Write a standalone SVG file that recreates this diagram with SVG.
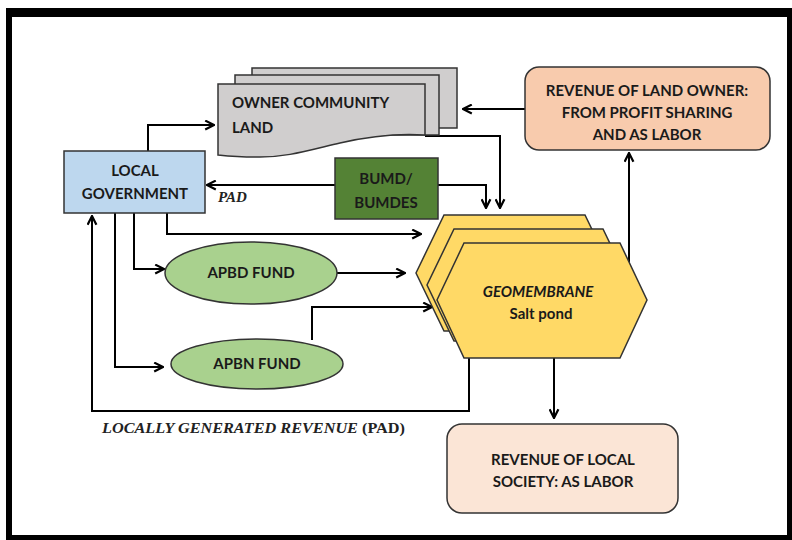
<svg xmlns="http://www.w3.org/2000/svg" width="792" height="540" viewBox="0 0 792 540">
<defs>
<marker id="ah" viewBox="0 0 10 10" refX="9" refY="5" markerWidth="11" markerHeight="11" markerUnits="userSpaceOnUse" orient="auto">
<path d="M1,1 L9,5 L1,9" fill="none" stroke="#000" stroke-width="2"/>
</marker>
<style>
.t{font-family:Lato,"Liberation Sans",sans-serif;font-weight:bold;font-size:15px;fill:#1a1a1a}
.c{text-anchor:middle}
.s{font-family:"Liberation Serif",serif;font-weight:bold;font-size:15px;fill:#222}
.ln{fill:none;stroke:#000;stroke-width:2}
.ar{marker-end:url(#ah)}
.bd{stroke:#333;stroke-width:1.5}
</style>
</defs>
<rect width="792" height="540" fill="#fff"/>
<g id="frame" fill="#000">
<rect x="6" y="8" width="786" height="9"/>
<rect x="6" y="8" width="6" height="532"/>
<rect x="787" y="8" width="5" height="532"/>
<rect x="6" y="535" width="786" height="5"/>
</g>
<g id="connectors">
<path class="ln ar" d="M148,151 V125 H214"/>
<path class="ln ar" d="M335,185 H207"/>
<path class="ln ar" d="M167,213 V234 H421"/>
<path class="ln ar" d="M134,213 V269 H164"/>
<path class="ln ar" d="M115,213 V367 H163"/>
<path class="ln ar" d="M337,273 H405"/>
<path class="ln ar" d="M312,340 V307 H432"/>
<path class="ln ar" d="M469,358 V411 H92 V216"/>
<path class="ln ar" d="M425,136 H500 V208"/>
<path class="ln ar" d="M438,185 H486 V208"/>
<path class="ln ar" d="M525,109 H463"/>
<path class="ln ar" d="M629,272 V153"/>
<path class="ln ar" d="M554,358 V418"/>
</g>
<g id="owner-land">
<rect x="252" y="68" width="205" height="60" fill="#d0cece" class="bd"/>
<rect x="235" y="75" width="204" height="60" fill="#d0cece" class="bd"/>
<path d="M218,84 H425 V135 C395,133 370,136 340,143 C310,150 285,158 255,157 C240,157 228,156 218,155 Z" fill="#d0cece" class="bd"/>
<text class="t" x="232" y="108">OWNER COMMUNITY</text>
<text class="t" x="232" y="133">LAND</text>
</g>
<g id="local-government">
<rect x="64" y="151" width="141" height="62" fill="#bdd7ee" class="bd"/>
<text class="t c" x="135" y="176">LOCAL</text>
<text class="t c" x="135" y="199">GOVERNMENT</text>
</g>
<g id="bumd">
<rect x="335" y="158" width="103" height="61" fill="#548235" class="bd"/>
<text class="t c" x="386" y="184">BUMD/</text>
<text class="t c" x="386" y="208">BUMDES</text>
</g>
<text class="s" x="218" y="202" font-size="17" font-style="italic">PAD</text>
<g id="revenue-land-owner">
<rect x="525" y="67" width="245" height="83" rx="14" fill="#f8cbad" class="bd"/>
<text class="t c" x="647" y="96">REVENUE OF LAND OWNER:</text>
<text class="t c" x="647" y="118">FROM PROFIT SHARING</text>
<text class="t c" x="647" y="140">AND AS LABOR</text>
</g>
<g id="apbd">
<ellipse cx="251" cy="273" rx="86" ry="31" fill="#a9d18e" class="bd"/>
<text class="t c" x="251" y="278">APBD FUND</text>
</g>
<g id="apbn">
<ellipse cx="257" cy="364" rx="86" ry="25" fill="#a9d18e" class="bd"/>
<text class="t c" x="257" y="369">APBN FUND</text>
</g>
<g id="geomembrane">
<path d="M444,215 H585 L613,273 L585,331 H444 L416,273 Z" fill="#ffd966" class="bd"/>
<path d="M454,229 H603 L630,285 L603,341 H454 L427,285 Z" fill="#ffd966" class="bd"/>
<path d="M464,243 H620 L647,300 L620,358 H464 L437,300 Z" fill="#ffd966" class="bd"/>
<text class="t c" x="538" y="297" font-size="16" font-style="italic">GEOMEMBRANE</text>
<text class="t c" x="541" y="319" font-size="16">Salt pond</text>
</g>
<g id="revenue-local-society">
<rect x="447" y="424" width="231" height="89" rx="15" fill="#fbe5d6" class="bd"/>
<text class="t c" x="563" y="465">REVENUE OF LOCAL</text>
<text class="t c" x="563" y="487">SOCIETY: AS LABOR</text>
</g>
<text class="s" x="102" y="433" textLength="303" lengthAdjust="spacingAndGlyphs"><tspan font-style="italic">LOCALLY GENERATED REVENUE</tspan> (PAD)</text>
</svg>
